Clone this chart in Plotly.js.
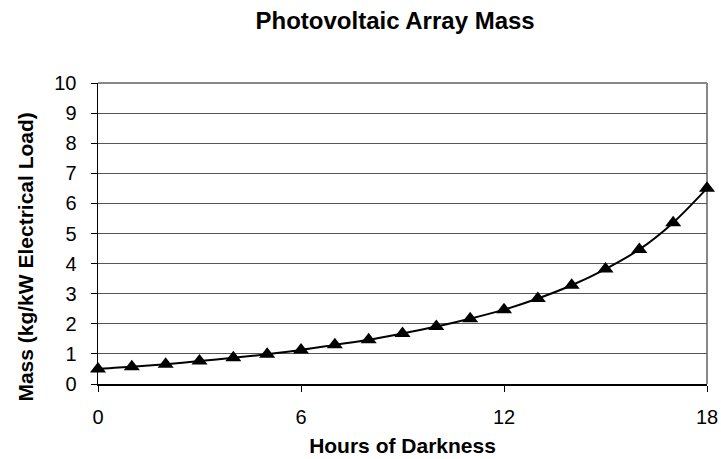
<!DOCTYPE html>
<html>
<head>
<meta charset="utf-8">
<script src="https://cdn.plot.ly/plotly-3.0.1.min.js"></script>
<style>html,body{margin:0;padding:0;background:#fff;}#chart{width:721px;height:459px;}</style>
</head>
<body>
<div id="chart"></div>
<script>
var hours = [0,1,2,3,4,5,6,7,8,9,10,11,12,13,14,15,16,17,18];
var mass = [0.5,0.57,0.66,0.76,0.87,0.99,1.13,1.3,1.47,1.68,1.91,2.17,2.47,2.84,3.28,3.82,4.47,5.36,6.5];
var xTicks = [0,6,12,18];
var yTicks = [0,1,2,3,4,5,6,7,8,9,10];
var yTitle = 'Mass (kg/kW Electrical Load)';

var font = "Arial, 'Liberation Sans', sans-serif";
var trace = {
  x: hours, y: mass, type: 'scatter', mode: 'lines+markers',
  line: {color: '#000', width: 2, shape: 'spline', smoothing: 0.8},
  marker: {symbol: 'triangle-up', size: 14, color: '#000'},
  cliponaxis: false, showlegend: false, hoverinfo: 'x+y'
};
var layout = {
  width: 721, height: 459,
  margin: {l: 98, r: 14, t: 83, b: 75},
  paper_bgcolor: '#fff', plot_bgcolor: '#fff',
  font: {family: font, color: '#000'},
  title: {text: '<b>Photovoltaic Array Mass</b>', font: {size: 24, family: font}, xref: 'container', x: 0.548, xanchor: 'center', yref: 'container', y: 0.955, yanchor: 'middle'},
  xaxis: {
    range: [0, 18], tickvals: xTicks, ticktext: xTicks.map(String),
    showgrid: false, zeroline: false,
    showline: true, linecolor: '#000', linewidth: 1.5,
    ticks: 'outside', ticklen: 6, tickcolor: '#000', ticklabelstandoff: 8,
    tickfont: {size: 20, family: font},
    title: {text: '<b>Hours of Darkness</b>', font: {size: 21, family: font}, standoff: 12}
  },
  yaxis: {
    range: [0, 10], tickvals: yTicks, ticktext: yTicks.map(String),
    showgrid: true, gridcolor: '#555', gridwidth: 1, zeroline: false,
    showline: true, linecolor: '#000', linewidth: 1.5,
    ticks: 'outside', ticklen: 6, tickcolor: '#000', ticklabelstandoff: 10,
    tickfont: {size: 20, family: font}
  },
  annotations: [
    {text: '<b>' + yTitle + '</b>', textangle: -90, showarrow: false,
     xref: 'paper', yref: 'paper', x: 0, y: 0.42, xanchor: 'center', yanchor: 'middle',
     xshift: -72, font: {size: 21, family: font, color: '#000'}}
  ],
  shapes: [
    {type: 'line', xref: 'paper', yref: 'paper', x0: 0, x1: 1, y0: 1, y1: 1, line: {color: '#888', width: 2}, layer: 'below'},
    {type: 'line', xref: 'paper', yref: 'paper', x0: 1, x1: 1, y0: 0, y1: 1, line: {color: '#888', width: 2}, layer: 'below'}
  ]
};
Plotly.newPlot('chart', [trace], layout, {displayModeBar: false, staticPlot: true});
</script>
</body>
</html>
